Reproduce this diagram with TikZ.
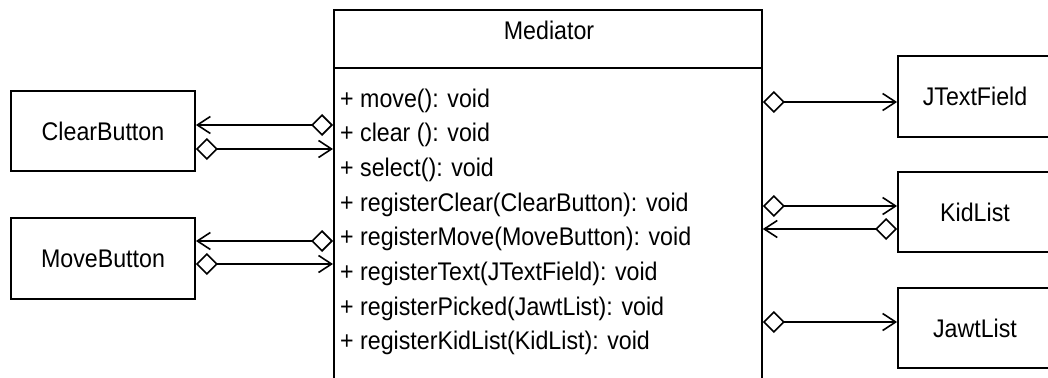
\documentclass[tikz,border=0pt]{standalone}
\usepackage{fontspec}
\setmainfont{Liberation Sans}[FakeStretch=0.91]
\usetikzlibrary{arrows.meta}

\begin{document}
\begin{tikzpicture}[x=1pt,y=-1pt,
  txt/.style={inner sep=0pt,font=\fontsize{25.5}{30}\selectfont},
  cls/.style={draw,line width=1.8pt,rectangle,inner sep=0pt,
    font=\fontsize{25.5}{30}\selectfont},
  agg/.style={line width=1.6pt,
    {Diamond[open,length=22pt,width=22pt]}-{Straight Barb[length=13pt,width=17pt]}}
]
\useasboundingbox (0,0) rectangle (1048,377);

% Mediator class (runs past the lower edge)
\node[cls,minimum width=428pt,minimum height=420pt,anchor=north west]
  (mediator) at (333,9) {};
\coordinate (hdr) at (0,68);
\draw[line width=1.8pt] (mediator.west |- hdr) -- (mediator.east |- hdr);
\node[txt,anchor=base] (title) at (549,40) {Mediator};
\foreach \t [count=\i] in {{+ move(): void},{+ clear (): void},{+ select(): void},
  {+ registerClear(ClearButton): void},{+ registerMove(MoveButton): void},
  {+ registerText(JTextField): void},{+ registerPicked(JawtList): void},
  {+ registerKidList(KidList): void}}
  \node[txt,anchor=base west] (m\i) at (340,{107+34.7*(\i-1)}) {\t};

% Colleague classes
\node[cls,minimum width=184pt,minimum height=80pt] (clear) at (103,131) {ClearButton};
\node[cls,minimum width=184pt,minimum height=81pt] (move) at (103,258.5) {MoveButton};
\node[cls,minimum width=154pt,minimum height=81pt] (jtext) at (975,96.5) {JTextField};
\node[cls,minimum width=154pt,minimum height=80pt] (kid) at (975,212) {KidList};
\node[cls,minimum width=154pt,minimum height=80pt] (jawt) at (975,328) {JawtList};

% Aggregation links
\draw[agg] ([yshift=6pt]clear.east -| mediator.west) -- ([yshift=6pt]clear.east);
\draw[agg] ([yshift=-18pt]clear.east) -- ([yshift=-18pt]clear.east -| mediator.west);
\draw[agg] ([yshift=17.5pt]move.east -| mediator.west) -- ([yshift=17.5pt]move.east);
\draw[agg] ([yshift=-5.5pt]move.east) -- ([yshift=-5.5pt]move.east -| mediator.west);

\draw[agg] ([yshift=-5.5pt]jtext.west -| mediator.east) -- ([yshift=-5.5pt]jtext.west);
\draw[agg] ([yshift=6pt]kid.west -| mediator.east) -- ([yshift=6pt]kid.west);
\draw[agg] ([yshift=-17pt]kid.west) -- ([yshift=-17pt]kid.west -| mediator.east);
\draw[agg] ([yshift=6pt]jawt.west -| mediator.east) -- ([yshift=6pt]jawt.west);
\end{tikzpicture}
\end{document}
